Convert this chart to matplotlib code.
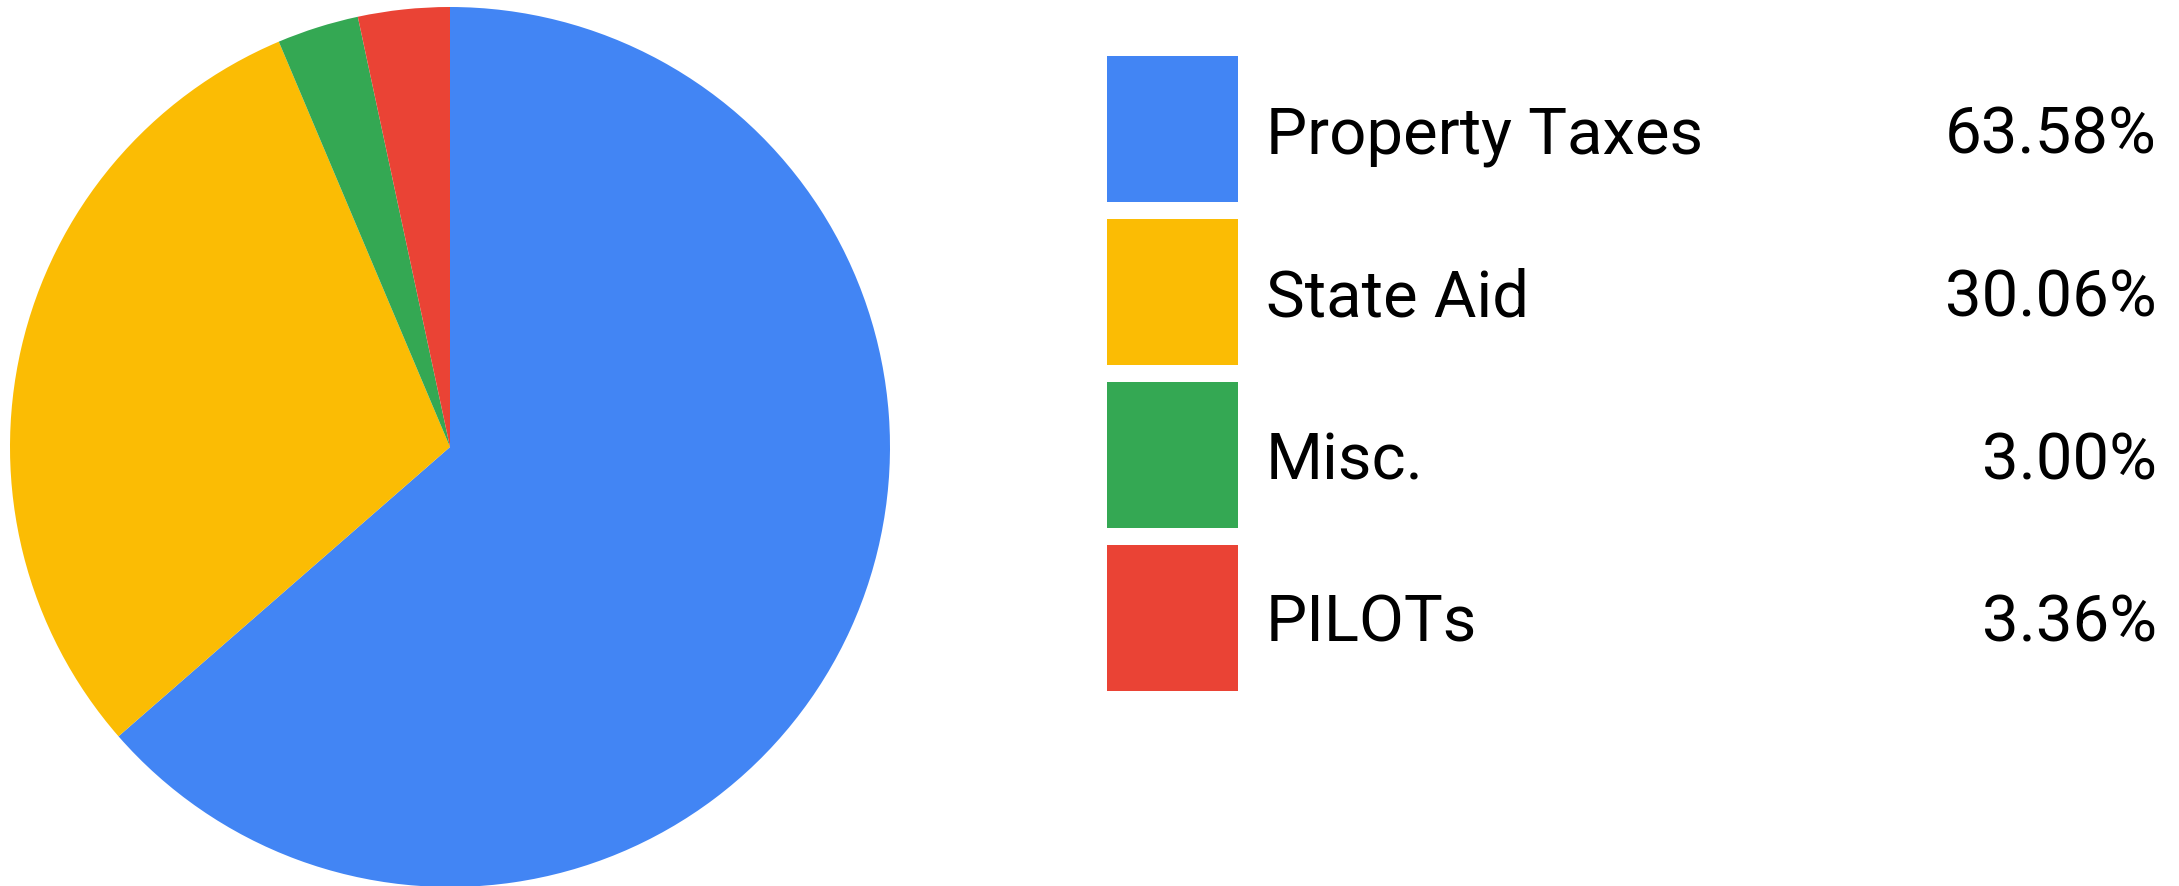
import matplotlib
matplotlib.use("Agg")
import matplotlib.pyplot as plt
from matplotlib.patches import Rectangle

# revenue sources, clockwise from 12 o'clock
labels = ["Property Taxes", "State Aid", "Misc.", "PILOTs"]
shares = [63.58, 30.06, 3.00, 3.36]
colors = ["#4285F4", "#FBBC04", "#34A853", "#EA4335"]

W, H = 2179, 886
fig = plt.figure(figsize=(W / 100, H / 100), dpi=100)
ax = fig.add_axes([0, 0, 1, 1])

ax.pie(shares, colors=colors, startangle=90, counterclock=False,
       center=(450, H - 447), radius=440,
       wedgeprops=dict(linewidth=0))

ax.set_xlim(0, W)
ax.set_ylim(0, H)
ax.set_aspect("auto")
ax.axis("off")

# legend drawn by hand, pixel coords measured from the top
for i, (lab, val, col) in enumerate(zip(labels, shares, colors)):
    top = 56 + i * 163
    ax.add_patch(Rectangle((1107, H - top - 146), 131, 146,
                           facecolor=col, edgecolor="none"))
    base = H - (top + 97)
    ax.text(1266, base, lab, fontsize=47, family="Roboto",
            va="baseline", ha="left", color="black")
    ax.text(2157, base, "{:.2f}%".format(val), fontsize=47,
            family="Roboto", va="baseline", ha="right", color="black")

fig.savefig("out.png", dpi=100)
